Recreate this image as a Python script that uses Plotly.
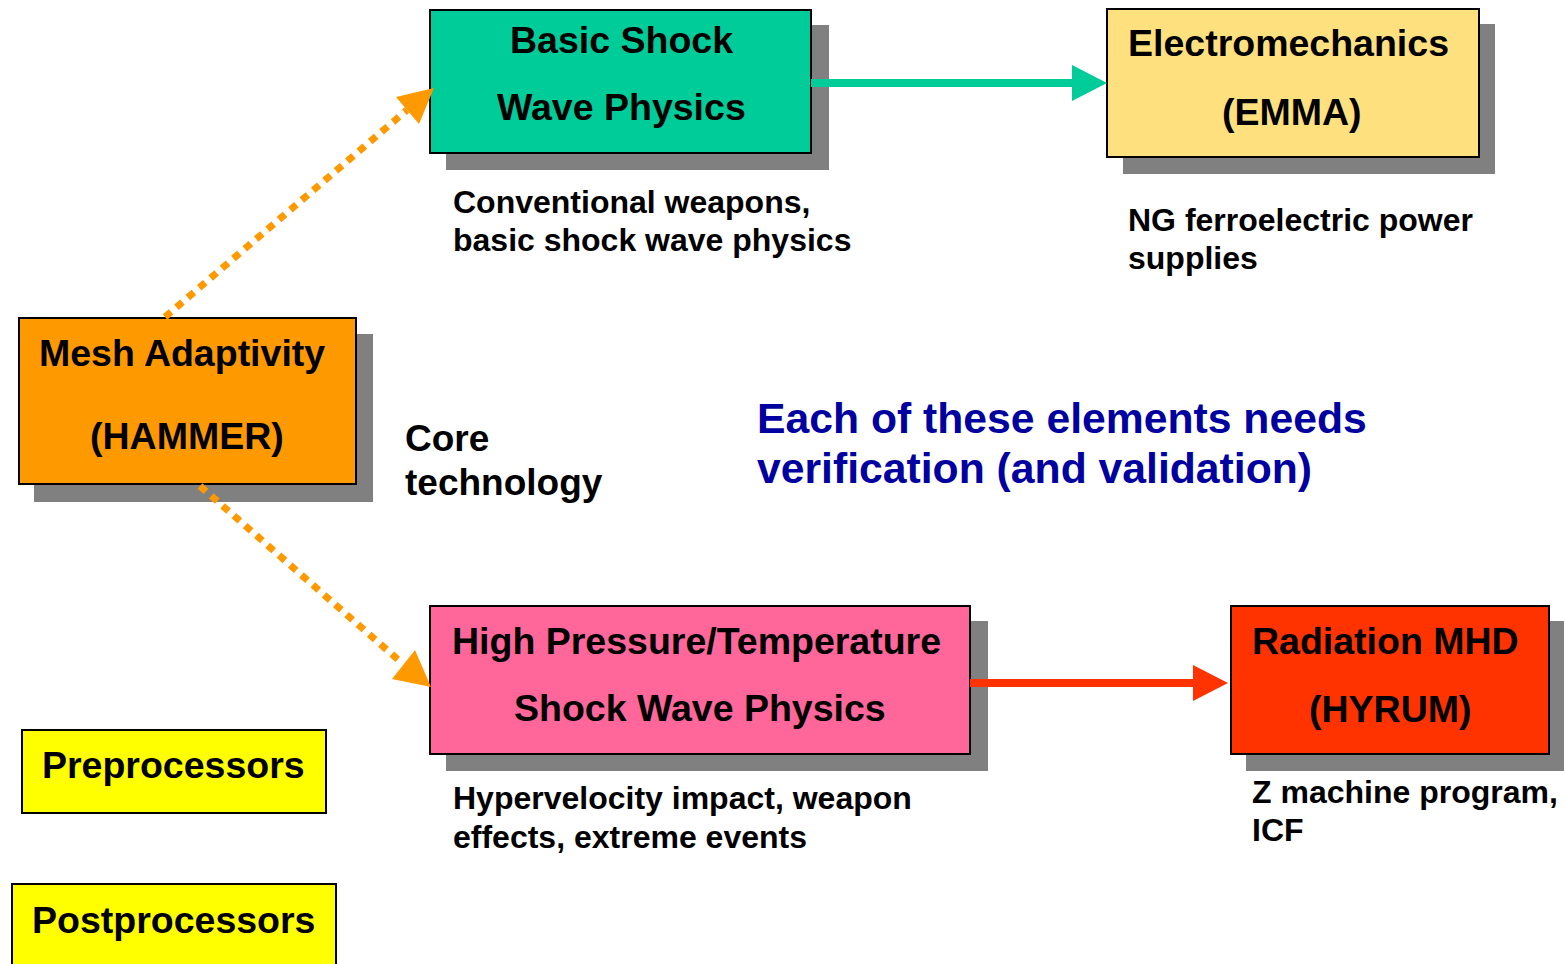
import plotly.graph_objects as go

W, H = 1564, 964

# ---- text content ----
basic_lines = ["Basic Shock", "Wave Physics"]
emma_lines = ["Electromechanics", "(EMMA)"]
hammer_lines = ["Mesh Adaptivity", "(HAMMER)"]
hpt_lines = ["High Pressure/Temperature", "Shock Wave Physics"]
hyrum_lines = ["Radiation MHD", "(HYRUM)"]
pre_label = ["Preprocessors"]
post_label = ["Postprocessors"]
basic_note = ["Conventional weapons,", "basic shock wave physics"]
emma_note = ["NG ferroelectric power", "supplies"]
hpt_note = ["Hypervelocity impact, weapon", "effects, extreme events"]
hyrum_note = ["Z machine program,", "ICF"]
core_label = ["Core", "technology"]
message = ["Each of these elements needs", "verification (and validation)"]

FONT = "Liberation Sans, Arial, sans-serif"
SHADOW = "#808080"

shapes = []
annotations = []


def box(x0, y0, x1, y1, fill, shadow=None):
    if shadow:
        sx0, sy0, sx1, sy1 = shadow
        shapes.append(dict(type="rect", xref="x", yref="y", x0=sx0, y0=sy0, x1=sx1, y1=sy1,
                           fillcolor=SHADOW, line=dict(width=0), layer="above"))
    shapes.append(dict(type="rect", xref="x", yref="y", x0=x0, y0=y0, x1=x1, y1=y1,
                       fillcolor=fill, line=dict(color="black", width=2), layer="above"))


def text(lines, xs, ys, size, color="black", anchor="center"):
    for t, x, y in zip(lines, xs, ys):
        annotations.append(dict(x=x, y=y, xref="x", yref="y", text="<b>%s</b>" % t,
                                showarrow=False, xanchor=anchor, yanchor="middle",
                                font=dict(family=FONT, size=size, color=color)))


def solid_arrow(x0, x1, y, tipx, half, color, width):
    shapes.append(dict(type="line", xref="x", yref="y", x0=x0, y0=y, x1=x1, y1=y,
                       line=dict(color=color, width=width), layer="above"))
    shapes.append(dict(type="path", xref="x", yref="y",
                       path="M %g,%g L %g,%g L %g,%g Z" % (x1, y - half, tipx, y, x1, y + half),
                       fillcolor=color, line=dict(width=0), layer="above"))


def dotted_arrow(p0, pb, tip, h1, h2, color):
    shapes.append(dict(type="line", xref="x", yref="y", x0=p0[0], y0=p0[1], x1=pb[0], y1=pb[1],
                       line=dict(color=color, width=7, dash="8px,7px"), layer="above"))
    shapes.append(dict(type="path", xref="x", yref="y",
                       path="M %g,%g L %g,%g L %g,%g Z" % (h1[0], h1[1], tip[0], tip[1], h2[0], h2[1]),
                       fillcolor=color, line=dict(width=0), layer="above"))


ORANGE = "#FF9900"

# boxes
box(430, 10, 811, 153, "#00CC99", (446, 25, 829, 170))
box(1107, 9, 1479, 157, "#FFE07F", (1123, 24, 1495, 174))
box(19, 318, 356, 484, "#FF9900", (34, 334, 373, 502))
box(430, 606, 970, 754, "#FF6699", (446, 621, 988, 771))
box(1231, 606, 1549, 754, "#FF3300", (1246, 621, 1570, 771))
box(22, 730, 326, 813, "#FFFF00")
box(12, 884, 336, 975, "#FFFF00")

# dotted arrows (over the shadows)
dotted_arrow((165, 317), (407, 110), (434, 88), (396, 97), (419, 124), ORANGE)
dotted_arrow((200, 486), (403, 664), (431, 687), (415, 650), (392, 679), ORANGE)

# solid arrows
solid_arrow(811, 1072, 83, 1107, 18, "#00CC99", 8)
solid_arrow(970, 1193, 683, 1228, 18, "#FF3300", 8)

# box texts
BS = 37.5
text(basic_lines, [621, 621], [40, 107], BS)
text(emma_lines, [1288, 1292], [43, 112], BS)
text(hammer_lines, [182, 187], [353, 436], BS)
text(hpt_lines, [696, 700], [641, 708], BS)
text(hyrum_lines, [1385, 1390], [641, 709], BS)
text(pre_label, [173], [765], BS)
text(post_label, [173], [920], BS)

# notes
NS = 32
text(basic_note, [451, 451], [202, 240], NS, anchor="left")
text(emma_note, [1126, 1126], [220, 258], NS, anchor="left")
text(hpt_note, [451, 451], [798, 837], NS, anchor="left")
text(hyrum_note, [1250, 1250], [792, 830], NS, anchor="left")
text(core_label, [403, 403], [438, 482], 37, anchor="left")
text(message, [755, 755], [418, 468], 42.7, color="#0000A0", anchor="left")

fig = go.Figure()
fig.add_trace(go.Scatter(x=[0, W], y=[0, H], mode="markers", marker=dict(opacity=0),
                         hoverinfo="skip", showlegend=False))
fig.update_layout(
    width=W, height=H, margin=dict(l=0, r=0, t=0, b=0),
    paper_bgcolor="white", plot_bgcolor="white",
    xaxis=dict(range=[0, W], visible=False, fixedrange=True),
    yaxis=dict(range=[H, 0], visible=False, fixedrange=True),
    shapes=shapes, annotations=annotations, showlegend=False,
)
fig.write_html("out.html", config=dict(displayModeBar=False, responsive=False),
               post_script="document.body.style.margin='0';document.body.style.overflow='hidden';")
